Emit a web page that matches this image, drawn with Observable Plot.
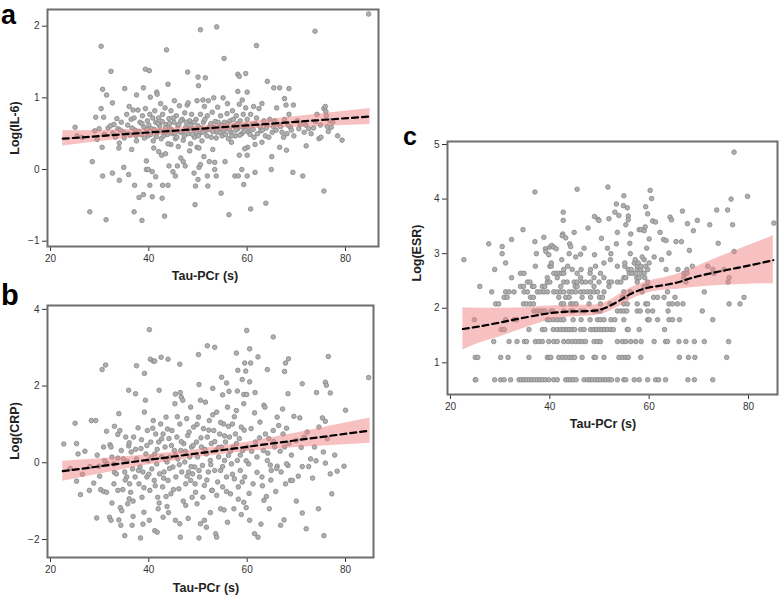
<!DOCTYPE html>
<html><head><meta charset="utf-8">
<script src="https://cdn.jsdelivr.net/npm/d3@7"></script>
<script src="https://cdn.jsdelivr.net/npm/@observablehq/plot@0.6"></script>
<style>
body{margin:0;background:#fff;font-family:"Liberation Sans",Arial,sans-serif;}
#wrap{position:relative;width:780px;height:599px;overflow:hidden;background:#fff;}
.p{position:absolute;}
.lt{position:absolute;font-weight:bold;color:#000;}
.xt{position:absolute;font-weight:bold;font-size:12.5px;color:#222;transform:translate(-50%,-50%);white-space:nowrap;}
.yt{position:absolute;font-weight:bold;font-size:12.5px;color:#222;transform:translate(-50%,-50%) rotate(-90deg);white-space:nowrap;}
</style></head><body><div id="wrap"></div>
<script>
// ---------- shared ----------
const xTicks = [20, 40, 60, 80];
const xTitle = "Tau-PCr (s)";

// ---------- panel a : Log(IL-6) ----------
const aTitle = "Log(IL-6)";
const aTicks = [-1, 0, 1, 2];
const aPoints = [
[84.7,2.17],[50.5,1.95],[53.8,1.99],[73.8,1.93],[30.3,1.72],[43.6,1.67],[61.9,1.73],[55.3,1.55],
[32.3,1.37],[39.3,1.40],[40.1,1.38],[47.9,1.36],[50.0,1.29],[51.5,1.28],[58.1,1.33],[58.4,1.30],
[59.7,1.34],[43.9,1.19],[50.1,1.17],[64.1,1.23],[65.4,1.14],[66.6,1.14],[68.5,1.13],[30.6,1.12],
[35.1,1.13],[38.9,1.14],[31.4,1.04],[41.6,1.08],[41.7,1.05],[58.1,1.09],[60.0,1.08],[67.6,0.99],
[40.3,1.01],[37.5,1.04],[29.2,0.73],[30.3,0.85],[32.6,0.93],[69.4,0.90],[67.9,0.90],
[28.5,0.11],[30.6,-0.09],[32.6,-0.05],[34.0,-0.15],[35.9,-0.07],[34.9,0.03],[28.0,-0.59],[31.3,-0.70],
[37.0,-0.59],[37.1,-0.22],[38.0,-0.39],[38.9,-0.35],[38.6,-0.71],[39.5,0.00],[39.9,0.00],[39.5,0.12],
[40.2,-0.22],[40.7,-0.03],[41.4,-0.10],[40.7,-0.38],[42.7,-0.40],[43.2,-0.65],[42.8,-0.22],[43.9,-0.22],
[42.0,0.25],[42.6,0.20],[43.4,0.22],[44.1,0.05],[44.9,-0.03],[45.4,-0.09],[45.8,0.05],[46.5,0.16],
[47.0,0.11],[47.4,0.05],[49.2,-0.05],[49.5,-0.23],[49.4,-0.49],[50.0,-0.14],[50.2,0.03],[50.5,0.07],
[51.9,-0.09],[52.0,-0.23],[52.3,0.11],[51.2,0.18],[53.4,0.00],[53.7,-0.09],[53.4,0.10],[54.7,-0.33],
[55.5,0.11],[56.3,-0.63],[57.5,-0.09],[58.2,-0.09],[58.4,0.20],[58.9,0.00],[59.3,-0.21],[60.0,0.20],
[60.0,-0.09],[60.1,0.31],[60.7,-0.55],[61.6,0.35],[61.6,-0.04],[63.8,-0.47],[64.9,0.00],[65.0,0.18],
[66.6,0.31],[69.3,-0.04],[71.3,-0.09],[72.0,0.33],[75.6,-0.30],
[33.9,0.30],[36.5,0.28],[41.0,0.30],[46.0,0.32],[49.8,0.31],[50.2,0.30],[53.0,0.28],[56.8,0.38],
[59.5,0.29],[63.0,0.38],[68.0,0.27],[48.3,0.26],[44.5,0.35],
[25.0,0.59],[25.4,0.47],[26.4,0.45],[29.0,0.54],[29.5,0.42],[29.9,0.57],[30.5,0.31],[30.8,0.73],
[31.7,0.58],[32.2,0.61],[32.7,0.51],[33.2,0.45],[33.7,0.57],[34.0,0.37],[34.4,0.66],[34.9,0.52],
[35.5,0.77],[35.9,0.50],[36.4,0.70],[36.8,0.83],[37.2,0.55],[37.5,0.40],[37.8,0.83],[38.2,0.66],
[38.4,0.49],[38.7,0.75],[39.0,0.59],
[39.3,0.85],[39.7,0.68],[39.8,0.47],[40.2,0.77],[40.5,0.57],[40.9,0.40],[41.2,0.82],[41.4,0.66],
[41.7,0.52],[42.0,0.72],[42.2,0.61],[42.5,0.43],[42.8,0.77],[43.1,0.52],[43.3,0.86],[43.5,0.63],
[43.9,0.36],[44.1,0.71],[44.3,0.57],[44.5,0.82],[44.8,0.50],[45.1,0.66],[45.4,0.43],
[45.6,0.75],[45.9,0.61],[46.2,0.89],[46.4,0.52],[46.8,0.70],[47.0,0.41],[47.3,0.79],[47.5,0.59],
[47.8,0.90],[48.0,0.50],[48.3,0.68],[48.5,0.36],[48.7,0.77],[49.0,0.57],[49.3,0.45],[49.6,0.70],
[49.8,0.96],[50.0,0.61],
[50.3,0.51],[50.5,0.77],[50.8,0.40],[51.1,0.66],[51.3,0.88],[51.5,0.54],[51.9,0.75],[52.1,0.96],
[52.4,0.60],[52.7,0.45],[52.9,0.80],[53.2,1.00],[53.5,0.67],[53.8,0.52],[54.0,0.87],[54.3,0.59],
[54.6,0.75],
[54.9,0.47],[55.1,1.00],[55.4,0.66],[55.7,0.57],[55.9,0.78],[56.2,0.43],[56.5,0.68],[56.7,0.52],
[57.0,0.82],[57.3,0.61],[57.6,0.47],[57.8,0.75],[58.1,0.57],[58.4,0.91],[58.6,0.68],[58.9,0.50],
[59.2,0.77],[59.5,0.60],[59.7,0.86],[60.0,0.70],
[60.3,0.52],[60.7,0.77],[61.0,0.63],[61.4,0.45],[61.9,0.72],[62.4,0.85],[62.8,0.54],[63.4,0.68],
[63.7,0.47],[64.1,0.62],[64.6,0.70],[65.1,0.52],[65.6,0.68],[66.0,0.86],[66.4,0.63],[67.1,0.52],
[67.6,0.70],[68.1,0.50],[68.5,0.77],[68.8,0.59],[69.5,0.47],
[70.2,0.68],[70.8,0.63],[71.6,0.52],[72.5,0.57],[73.0,0.50],[73.9,0.67],[74.2,0.77],[74.6,0.43],
[75.0,0.45],[75.6,0.85],[75.9,0.88],[76.1,0.75],[76.3,0.60],[76.8,0.68],[77.1,0.59],[78.4,0.47],
[79.3,0.41],
[31.0,0.49],[32.9,0.63],[33.5,0.71],[34.2,0.55],[35.0,0.44],[35.7,0.62],[36.2,0.48],[36.6,0.58],
[37.0,0.72],[37.4,0.47],[38.0,0.53],[38.6,0.64],[39.1,0.44],[39.6,0.56],[40.0,0.62],[40.4,0.49],
[40.8,0.72],[41.1,0.56],[41.5,0.46],[41.9,0.64],[42.3,0.54],[42.7,0.67],[43.0,0.47],[43.4,0.58],
[43.8,0.49],[44.2,0.64],[44.6,0.55],[45.0,0.72],[45.3,0.51],[45.7,0.45],[46.1,0.63],[46.5,0.68],
[46.9,0.53],[47.2,0.47],[47.6,0.66],[48.1,0.56],[48.5,0.62],[48.9,0.49],[49.2,0.66],[49.7,0.52],
[50.1,0.47],[50.6,0.58],[51.0,0.52],[51.4,0.70],[51.8,0.47],[52.2,0.56],[52.6,0.64],[53.0,0.53],
[53.3,0.59],[53.7,0.44],[54.1,0.66],[54.5,0.52],[54.8,0.62],[55.2,0.55],[55.6,0.49],[56.0,0.64],
[56.4,0.56],[56.9,0.47],[57.2,0.70],[57.7,0.55],[58.0,0.64],[58.5,0.48],[58.8,0.60],[59.3,0.53],
[59.8,0.62],[60.2,0.58],[60.6,0.49],[61.2,0.56],[61.7,0.64],[62.1,0.50],[62.6,0.60],[63.1,0.55],
[63.9,0.58],[64.4,0.45],[65.3,0.60],[65.9,0.55],[66.8,0.60],[67.4,0.45],[68.3,0.62],[69.0,0.55],
[70.5,0.57],[71.9,0.62],[73.5,0.58],[74.9,0.62],[76.0,0.81],[76.5,0.53],[77.4,0.66],
[36.0,0.88],[42.4,0.92],[45.2,0.96],[48.0,0.93],[51.0,0.97],[56.0,0.92],[59.0,0.97],[61.3,0.88],[63.0,0.92]
];
const aFitX = [22.5, 30, 40, 50, 60, 70, 85];
const aFit  = [0.43, 0.467, 0.517, 0.566, 0.616, 0.666, 0.74];
const aLo   = [0.33, 0.39, 0.465, 0.525, 0.565, 0.59, 0.63];
const aHi   = [0.54, 0.545, 0.57, 0.605, 0.665, 0.74, 0.85];

// ---------- panel b : Log(CRP) ----------
const bTitle = "Log(CRP)";
const bTicks = [-2, 0, 2, 4];
const bPoints = [
[40.1,3.47],[59.9,3.45],[65.3,3.28],[51.9,3.05],[53.4,3.01],[60.5,2.97],[50.1,2.82],[57.8,2.86],
[76.5,2.77],[40.3,2.70],[40.9,2.65],[41.2,2.65],[42.5,2.75],[43.9,2.70],[46.3,2.57],[31.2,2.55],
[30.5,2.43],[37.5,2.53],[39.1,2.33],[59.5,2.60],[60.7,2.60],[62.2,2.76],[58.1,2.41],[59.7,2.39],
[64.1,2.43],[67.8,2.60],[68.4,2.71],[67.6,2.38],[54.8,2.23],[50.2,2.04],[53.0,1.94],[55.8,2.08],
[59.0,2.17],[60.5,2.11],[71.2,2.06],[75.9,2.10],[76.1,2.02],[84.7,2.22],[35.9,1.89],[37.3,1.80],
[42.1,1.89],[45.4,1.79],[46.4,1.83],[46.6,1.71],[55.0,1.77],[56.3,1.86],[58.0,1.87],[59.3,1.78],
[59.9,1.78],[61.6,1.83],[63.4,1.50],[74.1,1.83],[76.9,1.82],[68.3,1.80],[80.0,1.37],[75.3,1.17],
[75.9,1.08],[69.5,1.21],[70.7,1.17],
[22.7,0.49],[25.0,1.03],[25.3,0.50],[25.6,0.23],[25.3,-0.48],[26.1,-0.83],[28.3,1.10],[29.2,1.10],
[27.9,-0.72],[28.8,-0.53],[29.4,-1.44],[31.4,0.82],[32.1,0.47],[32.3,0.41],[33.7,0.74],[33.9,1.28],
[29.9,-0.09],[30.2,-0.70],[30.8,-0.75],[31.4,-0.77],[32.0,-1.42],[32.3,-1.50],[32.9,-0.03],[33.0,-0.25],
[33.7,-0.72],[33.9,-1.49],[34.3,-1.63],[35.1,-1.90],[34.2,-1.17],[35.5,-0.37],[35.7,-1.07],[36.0,-0.94],
[36.3,-0.77],[36.6,-1.63],[38.3,-1.96],[39.0,-1.29],[40.1,-1.50],[41.2,-1.77],[41.7,-1.81],[41.9,-1.20],
[42.9,-1.42],[43.7,-1.14],[43.5,-0.88],[46.4,-1.94],[46.3,-1.59],[45.4,-1.50],[47.5,-1.11],[50.2,-1.96],
[50.5,-1.59],[51.3,-1.50],[51.7,-1.68],[53.6,-1.85],[53.8,-1.94],[48.5,-0.46],[48.8,-0.90],[49.8,-1.07],
[52.8,-0.72],[54.6,-1.20],[55.3,-1.23],[57.3,-1.20],[59.3,-1.03],[59.8,-1.17],[60.5,-1.50],[61.5,-1.85],
[62.2,-1.94],[63.4,-0.98],[63.9,-0.88],[64.5,-1.20],[66.8,-1.63],[67.5,-1.49],[67.8,-0.55],[68.8,-0.46],
[71.2,-1.31],[72.0,-1.72],[75.6,-1.90],[77.2,-0.81],[79.7,-0.09],[78.3,-0.22],[76.9,-0.29],[75.9,-0.01],
[72.5,-0.10],[71.2,-0.10],[69.2,-0.46],[68.3,-0.07],[66.1,-0.09],[64.7,-0.06],
[30.8,0.41],[31.5,-0.03],[32.5,0.15],[32.9,-0.55],[33.4,-0.29],[33.7,0.12],[34.1,0.84],[34.4,0.32],
[34.7,-0.70],[35.1,-0.24],[35.3,0.67],[35.6,0.04],[35.9,0.44],
[36.1,-0.55],[36.4,0.28],[36.7,-0.16],[36.9,0.67],[37.2,-0.37],[37.5,0.10],[37.8,0.91],[38.0,-0.55],
[38.2,-0.11],[38.4,0.37],[38.6,-0.90],[38.8,-0.24],[39.1,1.32],[39.3,1.63],[39.4,0.23],[39.6,-0.37],
[39.7,0.84],[39.9,0.06],
[40.2,-0.72],[40.4,0.54],[40.6,-0.16],[40.9,1.10],[41.1,-0.46],[41.2,0.23],[41.4,0.75],[41.6,-0.03],
[41.8,-0.90],[42.0,0.54],[42.2,-0.29],[42.4,1.01],[42.6,0.15],[42.8,-0.63],[42.9,0.75],[43.1,-0.24],
[43.3,0.41],[43.5,1.19],[43.7,0.02],[43.9,-0.46],[44.1,0.63],[44.3,0.15],[44.5,-0.81],[44.7,0.84],
[44.9,-0.11],[45.2,0.32],[45.3,1.54],
[45.5,-0.37],[45.7,0.67],[45.9,0.10],[46.1,-0.68],[46.3,1.01],[46.5,0.32],[46.7,-0.24],[46.9,1.63],
[47.1,0.50],[47.3,0.02],[47.5,-0.55],[47.7,1.15],[47.9,0.71],[48.1,-0.24],[48.3,0.15],[48.5,1.45],
[48.7,0.41],[48.9,-0.29],[49.1,0.93],[49.3,-0.11],[49.5,-0.77],[49.7,0.54],
[49.9,0.15],[50.1,1.19],[50.3,-0.37],[50.5,1.63],[50.7,0.41],[50.9,-0.07],[51.1,0.89],[51.3,-0.59],
[51.5,1.58],[51.7,0.23],[51.9,0.67],[52.1,-0.24],[52.3,1.10],[52.5,0.06],[52.7,0.50],[52.9,-0.72],
[53.2,0.84],[53.4,-0.20],[53.6,0.32],[53.8,1.32],[54.0,-0.50],[54.2,0.15],
[54.4,0.75],[54.6,-0.20],[54.8,0.41],[55.0,-0.63],[55.2,1.01],[55.4,0.06],[55.6,0.54],[55.8,-0.37],
[56.0,1.45],[56.2,0.19],[56.4,0.67],[56.6,-0.81],[56.8,-0.03],[57.0,1.01],[57.2,0.41],[57.4,-0.42],
[57.6,0.75],[57.8,1.36],[58.0,0.06],[58.2,-0.63],[58.4,0.63],[58.6,-0.20],[58.8,0.93],[59.1,0.32],
[59.3,1.54],[59.5,-0.37],
[60.0,0.41],[60.3,-0.03],[60.8,0.89],[61.2,-0.55],[61.7,0.54],[62.0,0.15],[62.6,1.06],[63.0,-0.37],
[63.3,0.32],[63.7,0.75],[64.1,0.06],[64.4,0.63],[64.9,-0.20],[65.3,0.84],[65.6,0.41],[66.1,1.19],
[66.4,0.97],[66.9,-0.24],[67.3,0.75],[67.6,0.41],[68.0,-0.03],[68.5,0.50],
[70.0,0.58],[71.6,0.67],[72.9,0.10],[73.7,0.41],[74.6,0.93],[75.5,0.28],[76.3,0.63],
[33.0,0.95],[34.8,0.10],[35.2,-0.45],[36.0,0.52],[36.8,-1.00],[37.3,0.35],[37.9,-0.20],[38.5,0.60],
[39.0,-0.65],[39.6,0.45],[40.0,-0.30],[40.5,0.15],[40.8,0.90],[41.3,-0.60],[41.7,0.35],[42.1,-1.05],
[42.6,0.62],[43.0,-0.40],[43.4,0.08],[43.8,0.88],[44.2,-0.15],[44.6,0.45],[45.0,-0.70],[45.4,0.20],
[45.8,1.20],[46.2,-0.05],[46.6,0.55],[47.0,-1.00],[47.4,0.30],[47.8,-0.35],[48.2,0.80],[48.6,-0.10],
[49.0,0.45],[49.4,-0.55],[49.8,1.00],[50.2,-0.20],[50.6,0.65],[51.0,-0.90],[51.4,0.35],[51.8,-0.45],
[52.2,0.85],[52.6,-0.05],[53.0,1.25],[53.4,0.55],[53.8,-0.85],[54.2,0.40],[54.6,1.05],[55.0,-0.10],
[55.4,0.70],[55.8,-0.75],[56.2,0.95],[56.6,0.30],[57.0,-0.30],[57.4,1.20],[57.8,0.50],[58.2,-0.95],
[58.6,0.20],[59.0,-0.50],[59.4,0.85],[59.8,0.05],[60.4,-0.80],[60.9,0.30],[61.5,1.30],[62.0,-0.25],
[62.5,0.65],[63.1,-0.60],[63.6,1.45],[64.2,0.25],[64.8,-0.45],[65.4,0.55],[66.0,-0.15],[66.7,0.30],
[67.2,1.40],[68.0,0.90],[69.0,0.20],[70.4,-0.35],[71.0,0.40],[72.2,0.80],[73.3,-0.40],[74.0,0.05],
[77.8,0.20],[29.5,0.20],[30.0,-0.35],[31.0,0.05],[27.0,0.30],[28.0,-0.10],[24.0,-0.15],[26.5,-0.30],
[32.5,-1.05],[34.5,-1.25],[36.8,-1.40],[38.8,-1.60],[44.0,-1.30],[48.0,-1.45],[52.5,-1.30],[56.0,-1.55],
[58.8,-1.35],[62.8,-1.60],[65.8,-0.75],[70.0,-1.00],[74.5,-1.20]
];
const bFitX = [22.5, 30, 40, 50, 60, 70, 85];
const bFit  = [-0.22, -0.093, 0.077, 0.246, 0.416, 0.586, 0.84];
const bLo   = [-0.48, -0.293, -0.053, 0.146, 0.296, 0.396, 0.51];
const bHi   = [0.04, 0.107, 0.207, 0.346, 0.536, 0.776, 1.17];

// ---------- panel c : Log(ESR) ----------
const cTitle = "Log(ESR)";
const cTicks = [1, 2, 3, 4, 5];
// discrete rows: [log value, Tau-PCr values]
const cRows = [
[0.69,[25.0,25.1,28.9,30.1,30.8,32.1,33.8,34.3,34.8,35.3,35.9,36.4,36.9,37.5,38.0,38.5,39.1,39.8,40.8,41.5,43.2,43.7,44.2,44.7,45.3,46.9,47.6,48.1,48.6,49.2,49.7,50.2,50.8,51.3,51.9,52.4,53.6,54.9,55.3,57.0,58.0,59.7,61.3,61.9,63.3,67.8,69.1,72.8]],
[1.10,[25.0,25.5,30.1,31.6,35.8,39.5,39.8,40.2,41.8,42.5,43.2,43.9,44.5,45.0,46.5,48.9,49.2,50.9,53.9,54.6,55.3,55.8,58.3,66.1,67.9,69.2,75.6]],
[1.39,[28.7,31.8,33.4,34.9,35.3,37.1,37.8,38.5,39.8,40.8,41.5,42.8,43.7,44.5,45.2,45.9,46.5,47.2,48.9,49.6,50.2,53.6,54.6,55.3,56.3,57.3,58.4,61.0,63.3,63.7,66.0,67.4,69.1,71.1,76.0]],
[1.61,[30.2,30.8,35.8,38.5,39.0,40.7,41.5,42.2,42.8,43.4,43.9,44.5,45.0,46.2,46.9,48.2,48.9,49.4,50.0,50.5,51.0,51.6,52.3,52.8,55.6,55.8,58.0,63.1]],
[1.79,[24.8,31.1,32.8,33.3,39.5,40.0,40.8,41.5,42.2,42.8,44.7,46.3,48.1,49.6,50.2,50.9,52.3,53.1,54.9,59.7,60.0,61.7,64.0,64.7,66.1,72.8]],
[1.95,[36.8,37.5,38.0,38.5,39.0,40.2,40.6,42.8,44.2,44.7,46.2,46.9,48.9,49.6,50.2,53.6,54.3,54.9,55.5,57.6,58.2,59.7,60.7,63.8,70.7]],
[2.08,[29.1,29.7,34.7,35.3,36.0,36.7,42.3,42.8,44.2,44.7,45.3,47.9,50.2,52.1,54.9,55.6,57.6,59.3,59.7,64.0,64.7,65.7,66.8,76.1,78.3]],
[2.20,[30.8,31.4,36.1,36.7,41.8,43.2,43.9,46.5,48.2,50.0,50.6,54.6,55.3,60.9,61.7,63.0,65.2,79.1]],
[2.30,[28.3,31.1,31.8,32.8,34.8,35.5,37.5,38.1,38.8,39.5,40.8,41.5,42.2,42.8,43.9,44.5,45.2,46.2,46.9,47.6,48.2,48.9,49.6,50.9,54.9,56.2,58.6,63.7,71.1]],
[2.40,[25.9,34.1,34.7,36.5,36.8,38.5,39.0,42.2,45.1,45.5,48.9,51.9,59.0,59.7]],
[2.48,[35.5,36.0,39.5,40.0,42.8,43.5,44.9,45.5,46.5,47.2,48.2,49.9,51.9,52.4,53.6,54.3,57.6,59.7,67.4,75.9]],
[2.56,[32.3,39.5,41.5,46.2,48.9,50.9,54.9,55.3,57.5,58.0,59.1,67.0,76.1]],
[2.64,[34.1,34.8,40.8,41.4,41.9,42.4,42.8,45.5,48.1,50.2,56.0,56.6,57.3,58.4,59.0,67.0,67.6,73.0]],
[2.71,[28.9,42.8,44.5,46.3,48.2,55.8,56.4,57.6,58.3,59.7,63.4,65.8,67.6,72.8,75.1]],
[2.77,[37.1,40.0,40.3,43.6,49.2,53.6,55.1,57.6,58.3,59.3,68.7,71.8]],
[2.83,[31.1,40.3,50.9,55.1,57.0,57.8,60.0]],
[2.89,[22.7,42.4,52.2,57.2,59.0,62.5]],
[2.94,[45.2,58.6,61.0]]
];
const cUpper = [
[27.7,3.18],[30.4,3.00],[30.4,3.13],[32.3,3.26],[34.6,3.44],[37.0,4.13],[37.0,3.22],[37.3,3.00],
[38.8,3.30],[39.1,3.09],[39.2,3.04],[39.8,2.98],[40.0,3.12],[40.4,3.15],[40.8,3.12],[41.3,3.09],
[42.6,3.36],[42.7,3.76],[42.7,3.61],[42.5,3.33],[43.2,3.29],[44.0,3.18],[44.2,3.13],[44.9,3.39],
[43.9,3.00],[45.5,4.18],[46.2,2.99],[46.9,3.10],[47.7,3.47],[49.0,3.68],[49.7,3.63],[49.0,2.98],
[49.9,3.61],[50.4,3.28],[51.7,4.22],[51.9,3.64],[51.6,3.10],[52.3,3.00],[53.1,3.76],[53.4,3.91],
[53.6,3.39],[53.4,3.18],[53.9,3.70],[54.8,3.88],[54.9,4.06],[55.3,3.53],[55.8,3.69],[55.6,3.84],
[55.8,3.62],[56.1,3.19],[56.2,3.00],[56.3,3.36],[58.0,3.44],[58.4,3.44],[59.0,3.42],[59.2,3.49],
[59.3,3.86],[59.7,3.73],[59.5,3.10],[60.0,3.27],[60.2,4.16],[60.5,4.01],[60.7,3.60],[61.3,3.58],
[62.2,3.39],[62.9,3.26],[63.4,3.24],[64.0,3.01],[64.2,3.67],[64.5,3.62],[65.4,3.22],[66.7,3.78],
[66.5,3.22],[67.7,3.55],[68.1,3.06],[68.9,3.42],[69.7,3.61],[72.2,3.53],[73.6,3.80],[73.9,3.19],
[75.8,3.80],[76.5,4.00],[76.8,3.53],[77.1,3.04],[77.1,4.86],[79.8,4.05],[85.1,3.56]
];
const cFitX = [22.5, 26, 30, 35, 40, 44, 48, 50, 52, 54, 56, 58, 60, 62, 64, 66, 68, 70, 75, 80, 85];
const cFit  = [1.62, 1.67, 1.74, 1.83, 1.91, 1.94, 1.95, 1.97, 2.04, 2.14, 2.25, 2.33, 2.38, 2.41, 2.44, 2.48, 2.54, 2.59, 2.69, 2.78, 2.88];
const cLo   = [1.24, 1.37, 1.48, 1.64, 1.78, 1.84, 1.86, 1.88, 1.94, 2.03, 2.14, 2.23, 2.29, 2.32, 2.34, 2.35, 2.37, 2.39, 2.42, 2.44, 2.45];
const cHi   = [2.01, 2.00, 2.00, 2.01, 2.04, 2.05, 2.06, 2.07, 2.14, 2.25, 2.36, 2.44, 2.50, 2.54, 2.58, 2.63, 2.70, 2.78, 2.97, 3.15, 3.33];

// ---------- drawing ----------
function panel(o) {
  const pts = o.points.map(([x, y]) => ({x, y}));
  const fit = o.fx.map((x, i) => ({x, f: o.ff[i], lo: o.flo[i], hi: o.fhi[i]}));
  return Plot.plot({
    width: o.width, height: o.height,
    marginLeft: o.ml, marginRight: o.mr, marginTop: o.mt, marginBottom: o.mb,
    style: {fontFamily: "Liberation Sans, Arial, sans-serif", fontSize: "10px", color: "#333", background: "transparent"},
    x: {domain: o.xd, ticks: xTicks, tickFormat: "d", tickSize: 5, tickPadding: 3, label: null},
    y: {domain: o.yd, ticks: o.yTicks, tickFormat: "d", tickSize: 5, tickPadding: 3, label: null},
    marks: [
      Plot.dot(pts, {x: "x", y: "y", r: 2.3, fill: "#b0b0b0", stroke: "#858585", strokeWidth: 0.8}),
      Plot.areaY(fit, {x: "x", y1: "lo", y2: "hi", fill: "#f08484", fillOpacity: 0.5, curve: o.curve}),
      Plot.line(fit, {x: "x", y: "f", stroke: "#000", strokeWidth: 2.2, strokeDasharray: "6,4", curve: o.curve}),
      Plot.frame({stroke: "#6e6e6e", strokeWidth: 2})
    ]
  });
}

const wrap = document.getElementById("wrap");
function place(el, left, top) {
  el.classList.add("p"); el.style.left = left + "px"; el.style.top = top + "px"; wrap.appendChild(el);
}
function txt(cls, s, left, top, size, lh) {
  const d = document.createElement("div"); d.className = cls; d.textContent = s;
  d.style.left = left + "px"; d.style.top = top + "px";
  if (size) d.style.fontSize = size + "px";
  if (lh) d.style.lineHeight = lh + "px";
  wrap.appendChild(d);
}

place(panel({points: aPoints, fx: aFitX, ff: aFit, flo: aLo, fhi: aHi, yTicks: aTicks,
  width: 380, height: 290, ml: 47, mr: 2, mt: 9, mb: 44, xd: [19.39, 86.71], yd: [-1.074, 2.233], curve: "linear"}), 0, 0);
place(panel({points: bPoints, fx: bFitX, ff: bFit, flo: bLo, fhi: bHi, yTicks: bTicks,
  width: 380, height: 309, ml: 47, mr: 7, mt: 15, mb: 42, xd: [19.39, 85.69], yd: [-2.47, 4.10], curve: "linear"}), 0, 290);
const cPts = [];
cRows.forEach(([ly, xs]) => xs.forEach(x => cPts.push([x, ly])));
cUpper.forEach(p => cPts.push(p));
place(panel({points: cPts, fx: cFitX, ff: cFit, flo: cLo, fhi: cHi, yTicks: cTicks,
  width: 390, height: 320, ml: 57, mr: 3, mt: 21, mb: 46, xd: [19.40, 85.84], yd: [0.42, 5.055], curve: "catmull-rom"}), 390, 120);

// panel letters
txt("lt", "a", 1, 2, 27, 27);
txt("lt", "b", 1, 286, 29, 18);
txt("lt", "c", 403, 129, 25, 15);
// axis titles
txt("xt", xTitle, 205, 276);
txt("yt", aTitle, 15, 128);
txt("xt", xTitle, 206, 588);
txt("yt", bTitle, 15, 431);
txt("xt", xTitle, 603, 424);
txt("yt", cTitle, 417, 253);
</script></body></html>
